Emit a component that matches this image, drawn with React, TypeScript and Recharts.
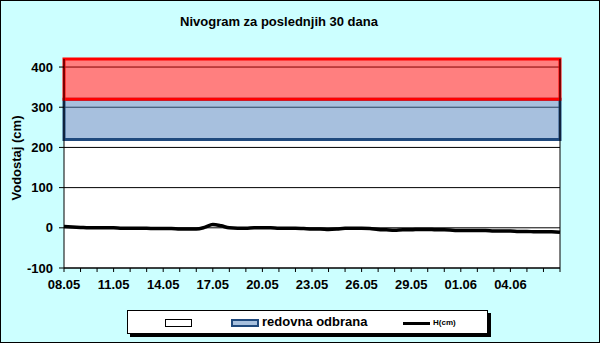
import { ComposedChart, Line, XAxis, YAxis, CartesianGrid, ReferenceArea, ReferenceLine } from 'recharts'

// one label per day, 08.05 .. 07.06
const days = [
  '08.05', '09.05', '10.05', '11.05', '12.05', '13.05', '14.05', '15.05', '16.05', '17.05',
  '18.05', '19.05', '20.05', '21.05', '22.05', '23.05', '24.05', '25.05', '26.05', '27.05',
  '28.05', '29.05', '30.05', '31.05', '01.06', '02.06', '03.06', '04.06', '05.06', '06.06', '07.06',
]

// H(cm), two readings a day
const hValues = [
  3, 2, 1, 0, 0, 0, 0, -1, -1, -1,
  -1, -2, -2, -2, -3, -3, -3, 1, 8, 5,
  0, -1, -1, 0, 0, 0, -1, -1, -1, -2,
  -3, -3, -4, -3, -1, -1, -1, -2, -4, -5,
  -6, -5, -5, -4, -4, -5, -5, -6, -7, -7,
  -7, -7, -8, -8, -8, -9, -9, -10, -10, -10, -11,
]

const redovnaOdbrana = [220, 320]
const vanrednaOdbrana = [320, 420]
const yTicks = [-100, 0, 100, 200, 300, 400]

const data = hValues.map((h, i) => ({ day: i / 2, h }))
const dayTicks = days.map((_, i) => i)

const font = 'Arial, "Liberation Sans", sans-serif'

export default function App() {
  return (
    <div style={{ position: 'absolute', left: 0, top: 0, width: 600, height: 343, background: '#CCFFFF', boxShadow: 'inset 0 0 0 1px #000', fontFamily: font }}>
      <div style={{ position: 'absolute', left: 179, top: 14, width: 200, textAlign: 'center', fontSize: 13, lineHeight: '15px', fontWeight: 700, whiteSpace: 'nowrap' }}>
        Nivogram za poslednjih 30 dana
      </div>
      <div style={{ position: 'absolute', left: 16, top: 158, transform: 'translate(-50%,-50%) rotate(-90deg)', fontSize: 13, lineHeight: '15px', fontWeight: 700, whiteSpace: 'nowrap' }}>
        Vodostaj (cm)
      </div>
      <div style={{ position: 'absolute', left: 0, top: 0 }}>
        <ComposedChart width={600} height={343} data={data} margin={{ top: 59, right: 40, bottom: 45, left: 0 }}>
          <CartesianGrid vertical={false} stroke="#000" fill="#fff" fillOpacity={1} />
          <XAxis
            type="number" dataKey="day" domain={[0, 30]} ticks={dayTicks} interval={0}
            tickFormatter={(v: number) => (v % 3 === 0 && v < 30 ? days[v] : '')}
            tick={{ fontSize: 13, fontWeight: 700, fill: '#000', fontFamily: font }}
            tickSize={4} tickMargin={8} height={30}
            axisLine={{ stroke: '#000' }} tickLine={{ stroke: '#000' }}
          />
          <YAxis
            type="number" domain={[-100, 420]} ticks={yTicks} allowDataOverflow width={64}
            tick={{ fontSize: 13, fontWeight: 700, fill: '#000', fontFamily: font }}
            tickSize={5} tickMargin={6}
            axisLine={{ stroke: '#000' }} tickLine={{ stroke: '#000' }}
          />
          <ReferenceArea x1={0} x2={30} y1={redovnaOdbrana[0]} y2={redovnaOdbrana[1]} fill="#4F81BD" fillOpacity={0.5} stroke="#1F497D" strokeWidth={3} />
          <ReferenceArea x1={0} x2={30} y1={vanrednaOdbrana[0]} y2={vanrednaOdbrana[1]} fill="#FF0000" fillOpacity={0.5} stroke="#FF0000" strokeWidth={3} />
          <ReferenceLine x={30} stroke="#000" />
          <Line dataKey="h" type="monotone" stroke="#000" strokeWidth={3.5} dot={false} isAnimationActive={false} />
        </ComposedChart>
      </div>
      <div style={{ position: 'absolute', left: 127, top: 310, width: 361, height: 24, boxSizing: 'border-box', border: '1px solid #000', background: '#fff', boxShadow: '3px 3px 0 #000' }}>
        <div style={{ position: 'absolute', left: 37, top: 8, width: 27, height: 8, boxSizing: 'border-box', border: '1px solid #000', background: '#fff' }} />
        <div style={{ position: 'absolute', left: 103, top: 8, width: 28, height: 8, boxSizing: 'border-box', border: '2px solid #1F497D', background: '#A7C0DE' }} />
        <div style={{ position: 'absolute', left: 134, top: 3, fontSize: 13, lineHeight: '15px', fontWeight: 700, whiteSpace: 'nowrap' }}>redovna odbrana</div>
        <div style={{ position: 'absolute', left: 275, top: 11, width: 27, height: 3, background: '#000' }} />
        <div style={{ position: 'absolute', left: 305, top: 7, fontSize: 8, lineHeight: '10px', fontWeight: 700, whiteSpace: 'nowrap' }}>H(cm)</div>
      </div>
    </div>
  )
}
